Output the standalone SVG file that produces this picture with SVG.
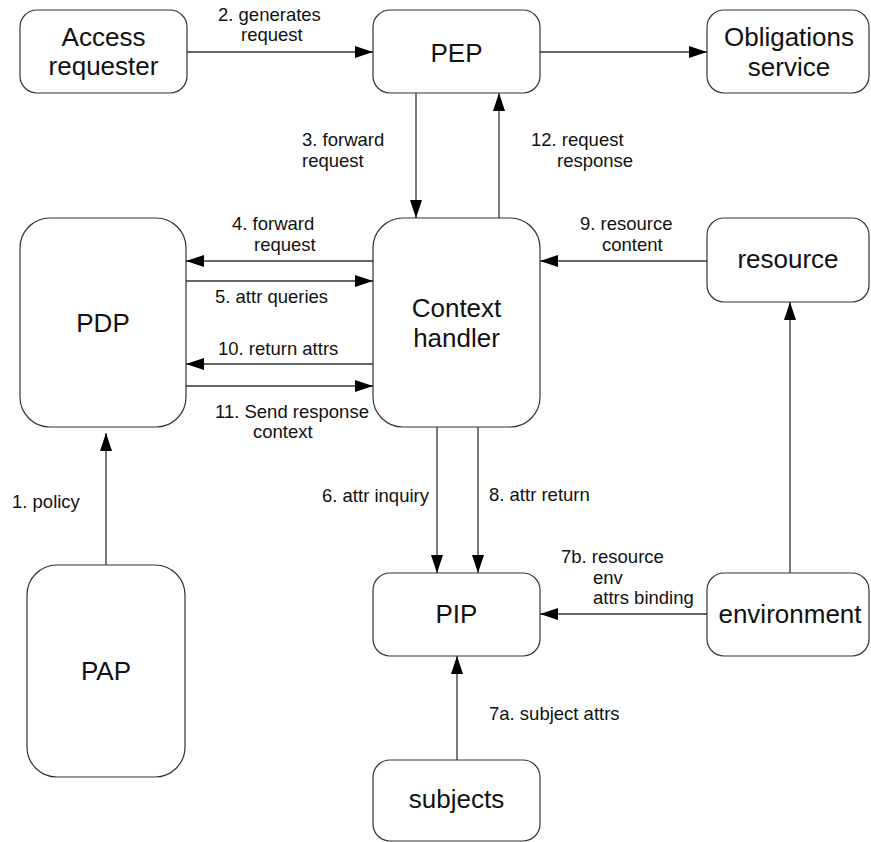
<svg xmlns="http://www.w3.org/2000/svg" width="871" height="842" viewBox="0 0 871 842">
  <style>
    .box { fill: #ffffff; stroke: #333333; stroke-width: 1.2; }
    .name { font-family: "Liberation Sans", Arial, sans-serif; font-size: 26px; fill: #111111; text-anchor: middle; }
    .lbl { font-family: "Liberation Sans", Arial, sans-serif; font-size: 18.5px; fill: #111111; }
    .wire { fill: none; stroke: #333333; stroke-width: 1.3; marker-end: url(#head); }
  </style>
  <defs>
    <marker id="head" markerUnits="userSpaceOnUse" markerWidth="18" markerHeight="12" refX="18" refY="6" orient="auto">
      <path d="M0,0 L18,6 L0,12 z" fill="#000000"/>
    </marker>
  </defs>
  <rect width="871" height="842" fill="#ffffff"/>

  <!-- nodes -->
  <g id="access-requester">
    <rect class="box" x="20" y="10" width="167" height="83" rx="17"/>
    <text class="name" x="103.5" y="46">Access</text>
    <text class="name" x="103.5" y="75">requester</text>
  </g>
  <g id="pep">
    <rect class="box" x="373" y="10" width="167" height="83" rx="17"/>
    <text class="name" x="456.5" y="62">PEP</text>
  </g>
  <g id="obligations-service">
    <rect class="box" x="707" y="10" width="162" height="83" rx="17"/>
    <text class="name" x="789" y="46">Obligations</text>
    <text class="name" x="789" y="76">service</text>
  </g>
  <g id="pdp">
    <rect class="box" x="20" y="218" width="166" height="209" rx="30"/>
    <text class="name" x="103" y="332">PDP</text>
  </g>
  <g id="context-handler">
    <rect class="box" x="373" y="218" width="167" height="209" rx="30"/>
    <text class="name" x="456.5" y="317">Context</text>
    <text class="name" x="456.5" y="347">handler</text>
  </g>
  <g id="resource">
    <rect class="box" x="707" y="218" width="162" height="84" rx="17"/>
    <text class="name" x="788" y="268">resource</text>
  </g>
  <g id="pip">
    <rect class="box" x="373" y="573" width="167" height="83" rx="17"/>
    <text class="name" x="456.5" y="623">PIP</text>
  </g>
  <g id="environment">
    <rect class="box" x="707" y="573" width="162" height="83" rx="17"/>
    <text class="name" x="790" y="623">environment</text>
  </g>
  <g id="subjects">
    <rect class="box" x="373" y="760" width="167" height="81" rx="17"/>
    <text class="name" x="456.5" y="808">subjects</text>
  </g>
  <g id="pap">
    <rect class="box" x="27" y="565" width="158" height="212" rx="30"/>
    <text class="name" x="106" y="680">PAP</text>
  </g>

  <!-- connectors -->
  <g id="connectors">
    <path class="wire" d="M187,52 H373"/>
    <path class="wire" d="M540,52 H707"/>
    <path class="wire" d="M416,93 V218"/>
    <path class="wire" d="M499,218 V93"/>
    <path class="wire" d="M373,261 H186"/>
    <path class="wire" d="M186,281 H373"/>
    <path class="wire" d="M373,364 H186"/>
    <path class="wire" d="M186,386 H373"/>
    <path class="wire" d="M707,261 H540"/>
    <path class="wire" d="M790,573 V302"/>
    <path class="wire" d="M437,427 V573"/>
    <path class="wire" d="M478,427 V573"/>
    <path class="wire" d="M707,614 H540"/>
    <path class="wire" d="M457,760 V656"/>
    <path class="wire" d="M106,565 V433"/>

    <!-- connector labels -->
    <text class="lbl" x="218" y="21">2. generates</text>
    <text class="lbl" x="241" y="41">request</text>
    <text class="lbl" x="302" y="146">3. forward</text>
    <text class="lbl" x="302" y="167">request</text>
    <text class="lbl" x="531" y="146">12. request</text>
    <text class="lbl" x="557" y="167">response</text>
    <text class="lbl" x="232" y="230">4. forward</text>
    <text class="lbl" x="254" y="251">request</text>
    <text class="lbl" x="215" y="303">5. attr queries</text>
    <text class="lbl" x="218" y="355">10. return attrs</text>
    <text class="lbl" x="215" y="418">11. Send response</text>
    <text class="lbl" x="253" y="438">context</text>
    <text class="lbl" x="580" y="230">9. resource</text>
    <text class="lbl" x="602" y="251">content</text>
    <text class="lbl" x="322" y="502">6. attr inquiry</text>
    <text class="lbl" x="489" y="501">8. attr return</text>
    <text class="lbl" x="561" y="563">7b. resource</text>
    <text class="lbl" x="593" y="584">env</text>
    <text class="lbl" x="593" y="604">attrs binding</text>
    <text class="lbl" x="489" y="720">7a. subject attrs</text>
    <text class="lbl" x="12" y="508">1. policy</text>
  </g>
</svg>
